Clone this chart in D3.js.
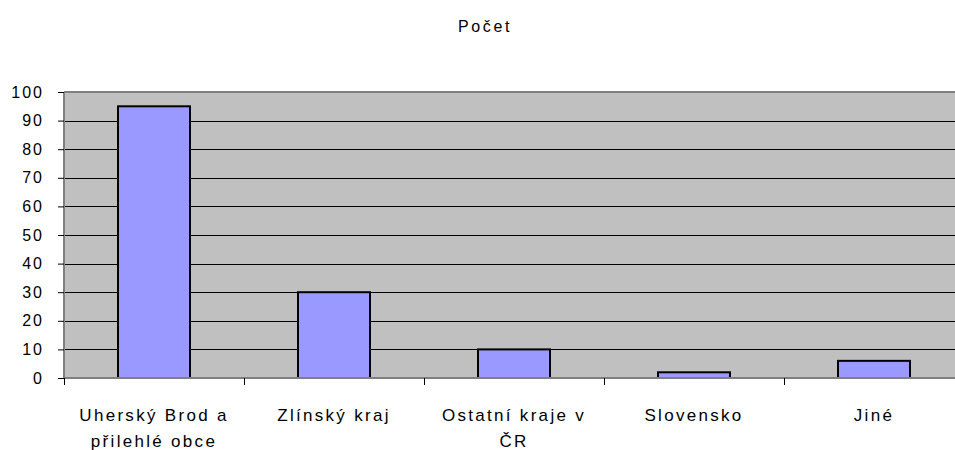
<!DOCTYPE html>
<html>
<head>
<meta charset="utf-8">
<script src="https://cdn.jsdelivr.net/npm/d3@7"></script>
<style>
body { margin: 0; background: #fff; }
svg { display: block; font-family: "Liberation Sans", Arial, sans-serif; }
</style>
</head>
<body>
<svg id="chart" width="955" height="450"></svg>
<script>
// data
const categories = ['Uherský Brod a přilehlé obce', 'Zlínský kraj', 'Ostatní kraje v ČR', 'Slovensko', 'Jiné'];
const counts = [95, 30, 10, 2, 6];
const yTicks = [0, 10, 20, 30, 40, 50, 60, 70, 80, 90, 100];
const chartTitle = 'Počet';

const svg = d3.select('#chart');
const plot = { left: 64, right: 964, top: 92, bottom: 378 };

const x = d3.scaleBand().domain(categories).range([plot.left, plot.right]).paddingInner(0.6).paddingOuter(0.3);
const y = d3.scaleLinear().domain([0, 100]).range([plot.bottom, plot.top]);

// plot background
svg.append('rect')
  .attr('x', plot.left).attr('y', plot.top)
  .attr('width', plot.right - plot.left).attr('height', plot.bottom - plot.top)
  .attr('fill', '#c0c0c0');

// gridlines
svg.append('g').selectAll('line')
  .data(yTicks.filter(d => d > 0 && d < 100))
  .join('line')
  .attr('x1', plot.left).attr('x2', plot.right)
  .attr('y1', d => Math.round(y(d)) + 0.5).attr('y2', d => Math.round(y(d)) + 0.5)
  .attr('stroke', '#000').attr('stroke-width', 1);

// top border
svg.append('line')
  .attr('x1', plot.left).attr('x2', plot.right)
  .attr('y1', plot.top).attr('y2', plot.top)
  .attr('stroke', '#808080').attr('stroke-width', 2);

// bars
svg.append('g').selectAll('rect')
  .data(counts)
  .join('rect')
  .attr('x', (d, i) => x(categories[i]))
  .attr('y', d => y(d))
  .attr('width', x.bandwidth())
  .attr('height', d => y(0) - y(d))
  .attr('fill', '#9999ff')
  .attr('stroke', '#000')
  .attr('stroke-width', 2);

// y axis
const yAxis = svg.append('g')
  .attr('transform', `translate(${plot.left},0)`)
  .call(d3.axisLeft(y).tickValues(yTicks).tickSize(6).tickPadding(14));
yAxis.select('.domain').attr('stroke', '#808080').attr('stroke-width', 2).attr('d', `M0,${plot.top}V${plot.bottom}`);
yAxis.selectAll('.tick line').attr('stroke', '#000');
yAxis.selectAll('.tick text')
  .attr('font-size', 16).attr('fill', '#000')
  .attr('font-family', '"Liberation Sans", Arial, sans-serif')
  .style('letter-spacing', '2px');

// x axis: ticks at category boundaries
const step = x.step();
const boundaries = d3.range(categories.length + 1).map(i => plot.left + i * step);
svg.append('line')
  .attr('x1', plot.left).attr('x2', plot.right)
  .attr('y1', plot.bottom).attr('y2', plot.bottom)
  .attr('stroke', '#808080').attr('stroke-width', 2);
svg.append('g').selectAll('line')
  .data(boundaries)
  .join('line')
  .attr('x1', d => d + 0.5).attr('x2', d => d + 0.5)
  .attr('y1', plot.bottom).attr('y2', plot.bottom + 7)
  .attr('stroke', '#000');

// category labels (wrapped)
const labels = svg.append('g').selectAll('text')
  .data(categories)
  .join('text')
  .attr('x', d => x(d) + x.bandwidth() / 2)
  .attr('y', 421)
  .attr('text-anchor', 'middle')
  .attr('font-size', 17)
  .style('letter-spacing', '2.3px')
  .each(wrap);

function wrap(d) {
  const text = d3.select(this);
  const words = d.split(' ');
  const maxW = 170;
  let line = [];
  let tspan = text.append('tspan').attr('x', text.attr('x'));
  words.forEach(w => {
    line.push(w);
    tspan.text(line.join(' '));
    if (tspan.node().getComputedTextLength() > maxW && line.length > 1) {
      line.pop();
      tspan.text(line.join(' '));
      line = [w];
      tspan = text.append('tspan').attr('x', text.attr('x')).attr('dy', 26).text(w);
    }
  });
}

// title
svg.append('text')
  .attr('x', 485).attr('y', 32)
  .attr('text-anchor', 'middle')
  .attr('font-size', 16)
  .style('letter-spacing', '2.6px')
  .text(chartTitle);
</script>
</body>
</html>
